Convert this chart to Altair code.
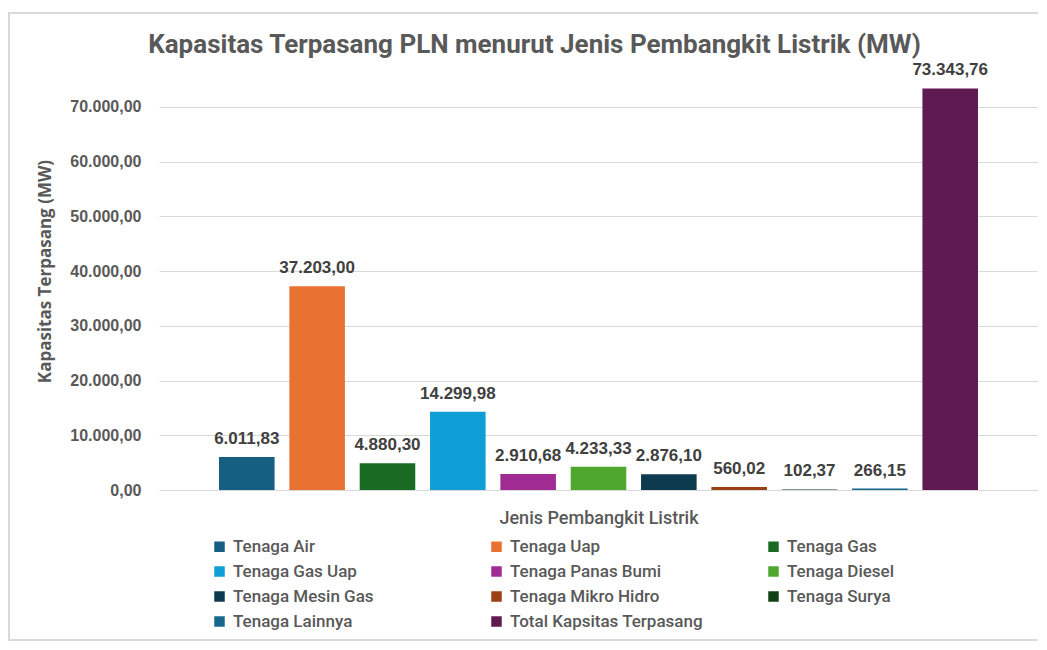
import altair as alt
import pandas as pd

jenis = [
    "Tenaga Air", "Tenaga Uap", "Tenaga Gas", "Tenaga Gas Uap",
    "Tenaga Panas Bumi", "Tenaga Diesel", "Tenaga Mesin Gas",
    "Tenaga Mikro Hidro", "Tenaga Surya", "Tenaga Lainnya",
    "Total Kapsitas Terpasang",
]
kapasitas = [6011.83, 37203.00, 4880.30, 14299.98, 2910.68, 4233.33,
             2876.10, 560.02, 102.37, 266.15, 73343.76]
warna = ["#156082", "#E97132", "#196B24", "#0F9ED5", "#A02B93", "#4EA72E",
         "#0D3A4E", "#9C3F12", "#0F4016", "#17698C", "#5F1A52"]
y_ticks = [0, 10000, 20000, 30000, 40000, 50000, 60000, 70000]

df = pd.DataFrame({"jenis": jenis, "kapasitas": kapasitas})

narrow = "Roboto"
grey = "#595959"

base = alt.Chart(df)

x_enc = alt.X(
    "jenis:N", sort=jenis,
    scale=alt.Scale(paddingInner=0.21, paddingOuter=0.853),
    axis=alt.Axis(labels=False, ticks=False, domain=False,
                  title="Jenis Pembangkit Listrik", titleFont=narrow,
                  titleFontSize=18, titleFontWeight=500, titleColor=grey,
                  titlePadding=19),
)
y_enc = alt.Y(
    "kapasitas:Q",
    scale=alt.Scale(domain=[0, 80000], nice=False),
    axis=alt.Axis(values=y_ticks, format=",.2f", labelFont="Liberation Sans",
                  labelFontSize=16, labelFontWeight="bold", labelColor=grey,
                  labelPadding=18, ticks=False, domain=False,
                  gridColor="#D9D9D9", gridWidth=1,
                  title="Kapasitas Terpasang (MW)", titleFont="Open Sans",
                  titleFontSize=17, titleFontWeight="bold", titleColor=grey,
                  titlePadding=15),
)

bars = base.mark_bar().encode(
    x=x_enc,
    y=y_enc,
    color=alt.Color(
        "jenis:N",
        scale=alt.Scale(domain=jenis, range=warna),
        legend=alt.Legend(
            title=None, orient="none", legendX=52, legendY=486,
            direction="horizontal", columns=3, gridAlign="all",
            columnPadding=62, rowPadding=7,
            symbolType="square", symbolSize=110, symbolStrokeWidth=0,
            labelFont=narrow, labelFontSize=17, labelFontWeight=500,
            labelColor=grey, labelOffset=5, labelLimit=300,
        ),
    ),
)

labels = base.mark_text(
    baseline="alphabetic", dy=-13, font="Liberation Sans",
    fontSize=17, fontWeight="bold", color="#404040",
).encode(
    x=alt.X("jenis:N", sort=jenis),
    y="kapasitas:Q",
    text=alt.Text("kapasitas:Q", format=",.2f"),
)

frame = base.mark_rect(filled=False, stroke="#D9D9D9", strokeWidth=2).encode(
    x=alt.value(-150), x2=alt.value(900), y=alt.value(-39), y2=alt.value(588)
)

chart = alt.layer(frame, bars, labels).properties(
    width=879, height=438,
    padding={"left": 151, "top": 44, "right": 0, "bottom": 152},
    autosize=alt.AutoSizeParams(type="none"),
    title=alt.TitleParams(
        "Kapasitas Terpasang PLN menurut Jenis Pembangkit Listrik (MW)",
        font=narrow, fontSize=26, fontWeight="bold", color=grey,
        anchor="middle", frame="group", dx=-64, offset=-46,
    ),
).configure(
    locale=alt.Locale(number=alt.NumberLocale(
        decimal=",", thousands=".", grouping=[3], currency=["Rp", ""]))
).configure_view(stroke=None)

chart.save("out.html", embed_options={"renderer": "svg", "actions": False})
